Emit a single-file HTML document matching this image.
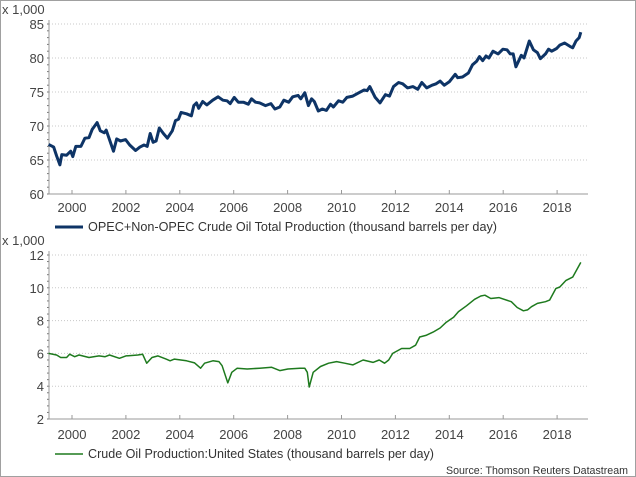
<!DOCTYPE html>
<html><head><meta charset="utf-8"><style>
body{margin:0;background:#fff;}
svg{display:block;font-family:"Liberation Sans",sans-serif;}
</style></head><body>
<svg id="c" width="636" height="477" xmlns="http://www.w3.org/2000/svg">
<rect x="0.5" y="0.5" width="635" height="476" fill="#fff" stroke="#a0a0a0"/>
</svg>
<script>
const years=[2000,2002,2004,2006,2008,2010,2012,2014,2016,2018];
const topTicks=[60,65,70,75,80,85];
const botTicks=[2,4,6,8,10,12];
const topT=[1999.13,1999.32,1999.43,1999.55,1999.62,1999.8,1999.95,2000.03,2000.14,2000.33,2000.48,2000.63,2000.75,2000.93,2001.05,2001.2,2001.27,2001.39,2001.54,2001.66,2001.8,2001.99,2002.14,2002.36,2002.52,2002.67,2002.79,2002.9,2003.01,2003.12,2003.24,2003.39,2003.54,2003.72,2003.84,2003.95,2004.05,2004.25,2004.43,2004.52,2004.62,2004.7,2004.85,2005.0,2005.22,2005.42,2005.6,2005.75,2005.87,2006.02,2006.17,2006.36,2006.54,2006.66,2006.81,2006.96,2007.18,2007.38,2007.53,2007.71,2007.86,2008.04,2008.19,2008.39,2008.49,2008.64,2008.77,2008.89,2008.99,2009.14,2009.29,2009.44,2009.59,2009.7,2009.89,2010.05,2010.2,2010.42,2010.65,2010.84,2010.95,2011.05,2011.25,2011.43,2011.63,2011.78,2011.93,2012.12,2012.27,2012.45,2012.65,2012.83,2012.98,2013.16,2013.36,2013.51,2013.66,2013.81,2014.0,2014.22,2014.31,2014.49,2014.71,2014.86,2015.01,2015.12,2015.24,2015.36,2015.47,2015.62,2015.81,2015.99,2016.14,2016.26,2016.37,2016.47,2016.67,2016.77,2016.97,2017.12,2017.27,2017.38,2017.57,2017.68,2017.8,2017.98,2018.1,2018.28,2018.48,2018.58,2018.7,2018.82,2018.88];
const topV=[67.3,66.9,65.6,64.3,65.8,65.7,66.3,65.5,67.0,67.0,68.2,68.3,69.5,70.5,69.3,69.0,69.4,68.0,66.3,68.1,67.8,68.0,67.2,66.4,66.9,67.2,67.0,68.9,67.6,67.8,69.7,68.9,68.2,69.3,70.8,71.0,72.0,71.8,71.5,73.0,73.4,72.6,73.6,73.1,73.8,74.3,73.8,73.7,73.3,74.2,73.5,73.5,73.2,74.0,73.5,73.4,73.0,73.3,72.5,72.8,73.8,73.5,74.3,74.5,74.0,74.9,73.0,74.0,73.6,72.2,72.5,72.3,73.2,72.8,73.7,73.5,74.2,74.4,74.9,75.3,75.2,75.8,74.2,73.4,74.6,74.4,75.8,76.4,76.2,75.6,75.8,75.4,76.4,75.6,76.0,76.2,76.6,76.0,76.5,77.6,77.1,77.2,77.8,79.0,79.5,80.2,79.6,80.3,80.0,81.0,80.6,81.3,81.2,80.6,80.6,78.7,80.4,80.0,82.5,81.2,80.8,79.9,80.6,81.3,81.0,81.4,81.9,82.2,81.7,81.5,82.5,83.0,83.8];
const botT=[1999.13,1999.43,1999.58,1999.8,1999.91,2000.1,2000.26,2000.63,2001.0,2001.23,2001.39,2001.76,2002.0,2002.44,2002.62,2002.77,2002.97,2003.19,2003.49,2003.64,2003.8,2004.25,2004.55,2004.77,2004.92,2005.23,2005.45,2005.57,2005.78,2005.93,2006.13,2006.5,2006.96,2007.41,2007.71,2008.01,2008.46,2008.64,2008.73,2008.8,2008.95,2009.22,2009.52,2009.82,2010.12,2010.42,2010.8,2011.17,2011.4,2011.6,2011.75,2011.9,2012.23,2012.53,2012.75,2012.9,2013.13,2013.4,2013.66,2013.89,2014.16,2014.34,2014.64,2014.94,2015.17,2015.32,2015.54,2015.84,2016.3,2016.52,2016.75,2016.9,2017.05,2017.27,2017.57,2017.72,2017.95,2018.1,2018.33,2018.58,2018.88];
const botV=[6.0,5.9,5.75,5.75,5.95,5.8,5.9,5.75,5.85,5.8,5.9,5.7,5.85,5.9,5.95,5.4,5.75,5.85,5.65,5.55,5.65,5.55,5.42,5.1,5.4,5.55,5.5,5.25,4.2,4.85,5.1,5.05,5.1,5.15,4.95,5.05,5.1,5.1,4.85,3.95,4.85,5.2,5.4,5.5,5.4,5.3,5.6,5.45,5.6,5.4,5.6,6.0,6.3,6.3,6.5,7.0,7.1,7.3,7.55,7.9,8.2,8.55,8.9,9.3,9.5,9.55,9.35,9.4,9.15,8.8,8.6,8.65,8.85,9.05,9.15,9.25,9.95,10.05,10.45,10.65,11.55];

const svg=document.getElementById('c');
const NS='http://www.w3.org/2000/svg';
function mk(tag,attrs,parent){const e=document.createElementNS(NS,tag);for(const k in attrs)e.setAttribute(k,attrs[k]);(parent||svg).appendChild(e);return e;}
const X0=49,X1=588;
const xs=y=>72+(y-2000)*26.95;
function panel(name,yMin,yMax,yTop,yBot,ticks,T,V,color,width,legend,legLen,labY,legY){
  const ys=v=>yBot-(v-yMin)/(yMax-yMin)*(yBot-yTop);
  const g=mk('g',{});
  
  
  ticks.forEach(t=>{
    if(t!==yMin){const l=mk('line',{x1:X0,x2:X1,y1:ys(t),y2:ys(t),stroke:'#c8c8c8','stroke-dasharray':'1,2'},g);
    
    }
    const tx=mk('text',{x:X0-5,y:ys(t)+5,'text-anchor':'end','font-size':'13',fill:'#444'},g);
    tx.textContent=t;
    
    
  });
  for(let v=yMin;v<=yMax+1e-9;v+=(ticks[1]-ticks[0])/5){mk('line',{x1:X0-2,x2:X0,y1:ys(v),y2:ys(v),stroke:'#777'},g);}
  const ax=mk('path',{d:`M${X0},${yTop-4}V${yBot}H${X1}`,fill:'none',stroke:'#999'},g);
  
  
  years.forEach(yr=>{
    mk('line',{x1:xs(yr),x2:xs(yr),y1:yBot,y2:yBot-4,stroke:'#999'},g);
    const tx=mk('text',{x:xs(yr),y:labY,'text-anchor':'middle','font-size':'13',fill:'#444'},g);
    tx.textContent=yr;
    
    
  });
  const u=mk('text',{x:2,y:yTop-10,'font-size':'13',fill:'#444'},g);
  u.textContent='x 1,000';
  
  
  const d=T.map((t,i)=>(i?'L':'M')+xs(t).toFixed(1)+','+ys(V[i]).toFixed(1)).join('');
  const p=mk('path',{d:d,fill:'none',stroke:color,'stroke-width':width,'stroke-linejoin':'round'},g);
  
  
  const ll=mk('line',{x1:55,x2:83,y1:legY-4,y2:legY-4,stroke:color,'stroke-width':width},g);
  
  
  const lt=mk('text',{x:88,y:legY,'font-size':'13',fill:'#333',textLength:legLen,lengthAdjust:'spacingAndGlyphs'},g);
  lt.textContent=legend;
  
  
}
panel('total-production',60,85,24,194,topTicks,topT,topV,'#0e3466',3,'OPEC+Non-OPEC Crude Oil Total Production (thousand barrels per day)',409,212,231);
panel('us-production',2,12,255,419,botTicks,botT,botV,'#1e7a1e',1.5,'Crude Oil Production:United States (thousand barrels per day)',346,439,458);
const s=mk('text',{x:446,y:474,'font-size':'11',fill:'#333',textLength:182,lengthAdjust:'spacingAndGlyphs'});
s.textContent='Source: Thomson Reuters Datastream';


</script>
</body></html>
